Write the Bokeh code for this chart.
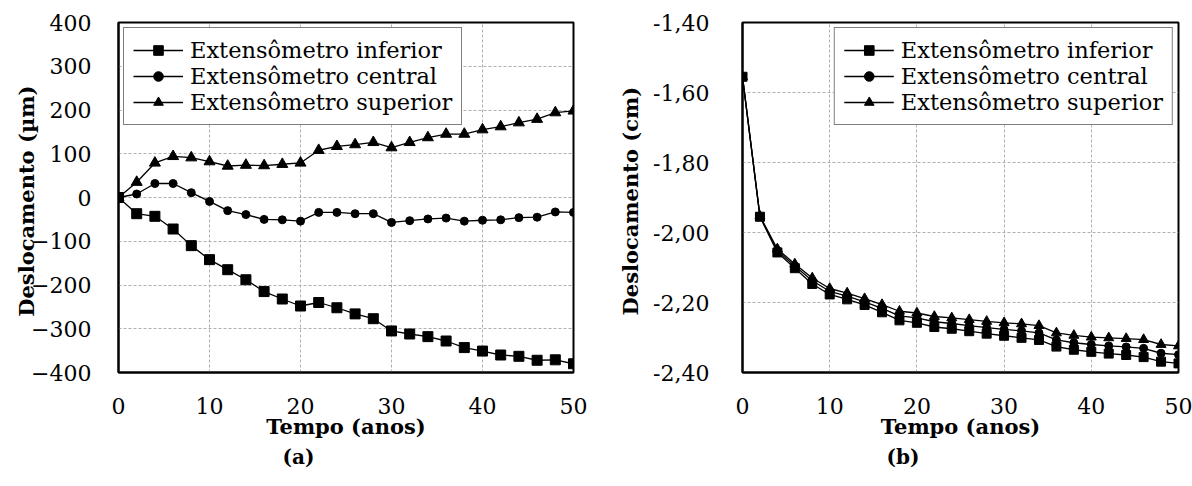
from bokeh.plotting import figure
from bokeh.layouts import row
from bokeh.models import (Range1d, FixedTicker, Legend, LegendItem, Title)
from bokeh.embed import file_html
from bokeh.resources import INLINE

# ---------------- data ----------------
anos = [0, 2, 4, 6, 8, 10, 12, 14, 16, 18, 20, 22, 24, 26, 28, 30, 32, 34, 36, 38, 40, 42, 44, 46, 48, 50]

# (a) deslocamento em micrometros
inferior_a = [0, -37, -43, -72, -110, -142, -165, -188, -215, -232, -248, -240, -252, -266, -277,
              -305, -312, -318, -328, -343, -351, -360, -363, -372, -371, -380]
central_a = [0, 8, 32, 32, 11, -9, -30, -39, -50, -51, -54, -34, -34, -37, -37,
             -57, -53, -49, -47, -54, -52, -51, -46, -45, -33, -34]
superior_a = [0, 35, 79, 94, 91, 82, 72, 74, 73, 76, 79, 108, 117, 121, 126,
              114, 126, 137, 145, 145, 155, 162, 171, 179, 194, 198]

# (b) deslocamento em centimetros
inferior_b = [-1.555, -1.955, -2.057, -2.102, -2.147, -2.177, -2.191, -2.207, -2.228, -2.251, -2.258,
              -2.270, -2.275, -2.282, -2.289, -2.295, -2.301, -2.307, -2.326, -2.335, -2.341, -2.346,
              -2.350, -2.356, -2.369, -2.374]
central_b = [-1.555, -1.954, -2.052, -2.096, -2.138, -2.168, -2.182, -2.198, -2.217, -2.238, -2.244,
             -2.255, -2.260, -2.266, -2.272, -2.277, -2.281, -2.287, -2.307, -2.315, -2.320, -2.324,
             -2.327, -2.331, -2.345, -2.349]
superior_b = [-1.555, -1.953, -2.047, -2.090, -2.130, -2.160, -2.173, -2.189, -2.206, -2.225, -2.230,
              -2.240, -2.244, -2.249, -2.254, -2.258, -2.261, -2.266, -2.287, -2.294, -2.299, -2.301,
              -2.303, -2.306, -2.320, -2.324]

series_names = ["Extensômetro inferior", "Extensômetro central", "Extensômetro superior"]

x_ticks = [0, 10, 20, 30, 40, 50]
y_ticks_a = [-400, -300, -200, -100, 0, 100, 200, 300, 400]
y_ticks_b = [-2.4, -2.2, -2.0, -1.8, -1.6, -1.4]
y_tick_labels_b = ["-2,40", "-2,20", "-2,00", "-1,80", "-1,60", "-1,40"]

x_label = "Tempo (anos)"
y_label_a = "Deslocamento  (µm)"
y_label_b = "Deslocamento  (cm)"

FONT = "DejaVu Serif"


def make_fig(ys, yr, yticks, ylabel, sub, border_left, border_right, border_bottom,
             legend_loc, sub_offset, ylab_standoff, ytick_standoff, sizes, ylabels=None):
    p = figure(width=596, height=486, output_backend="svg", toolbar_location=None,
               x_range=Range1d(0, 50), y_range=Range1d(*yr),
               min_border_left=border_left, min_border_right=border_right,
               min_border_top=22, min_border_bottom=border_bottom,
               background_fill_color="white", border_fill_color="white")
    p.outline_line_color = "black"
    p.outline_line_width = 2

    for ax in (p.xaxis[0], p.yaxis[0]):
        ax.axis_line_color = "black"
        ax.axis_line_width = 2
        ax.major_tick_line_color = None
        ax.minor_tick_line_color = None
        ax.major_label_text_font = FONT
        ax.major_label_text_font_size = "22px"
        ax.major_label_text_color = "black"
        ax.axis_label_text_font = FONT
        ax.axis_label_text_font_size = "21px"
        ax.axis_label_text_font_style = "bold"
        ax.axis_label_text_color = "black"

    p.xaxis.ticker = FixedTicker(ticks=x_ticks)
    p.yaxis.ticker = FixedTicker(ticks=yticks)
    if ylabels is not None:
        p.yaxis.major_label_overrides = {t: l for t, l in zip(yticks, ylabels)}
    p.xaxis.major_label_standoff = 19
    p.yaxis.major_label_standoff = ytick_standoff
    p.xaxis.axis_label = x_label
    p.yaxis.axis_label = ylabel
    p.xaxis.axis_label_standoff = -3
    p.yaxis.axis_label_standoff = ylab_standoff

    for g in (p.xgrid[0], p.ygrid[0]):
        g.grid_line_color = "#b0b0b0"
        g.grid_line_dash = "3 2"
        g.grid_line_width = 1
    p.xgrid.ticker = FixedTicker(ticks=x_ticks)
    p.ygrid.ticker = FixedTicker(ticks=yticks)

    markers = ["square", "circle", "triangle"]
    items = []
    for name, y, mk, sz in zip(series_names, ys, markers, sizes):
        ln = p.line(anos, y, line_color="black", line_width=1.3)
        sc = p.scatter(anos, y, marker=mk, size=sz, fill_color="black", line_color="black")
        items.append(LegendItem(label=name, renderers=[ln, sc]))

    leg = Legend(items=items, location=legend_loc, margin=5, padding=9, spacing=0,
                 glyph_width=50, glyph_height=24, label_height=24, label_standoff=7,
                 label_text_font=FONT, label_text_font_size="22.5px", label_text_color="black",
                 border_line_color="black", border_line_width=1,
                 background_fill_color="white", background_fill_alpha=1)
    p.add_layout(leg, "center")

    t = Title(text=sub, align="left", offset=sub_offset, standoff=3, text_font=FONT,
              text_font_size="20px", text_font_style="bold", text_color="black")
    p.add_layout(t, "below")
    return p


p1 = make_fig([inferior_a, central_a, superior_a], (-400, 400), y_ticks_a, y_label_a, "(a)",
              118, 23, 114, "top_left", 164, -11, 21, [10, 8, 11])
p2 = make_fig([inferior_b, central_b, superior_b], (-2.4, -1.4), y_ticks_b, y_label_b, "(b)",
              146, 14, 111, "top_right", 144, 7, 27, [9, 8, 10], y_tick_labels_b)

layout = row(p1, p2)
open("out.html", "w").write(file_html(layout, INLINE))
